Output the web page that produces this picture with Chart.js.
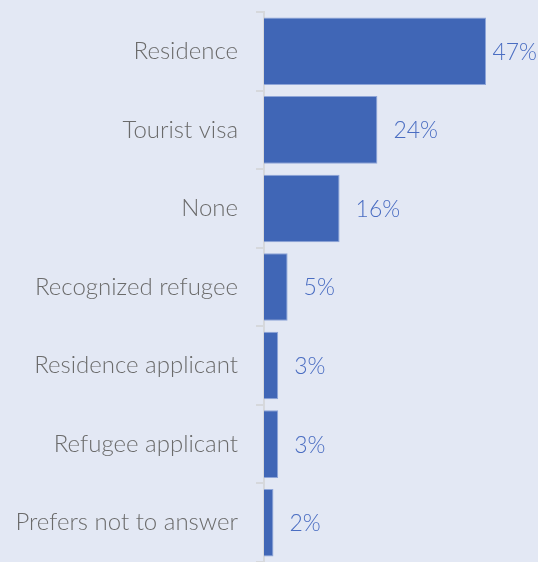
<!DOCTYPE html>
<html>
<head>
<meta charset="utf-8">
<script src="https://cdn.jsdelivr.net/npm/chart.js@4"></script>
<style>
  html, body { margin: 0; padding: 0; background: #e3e8f4; }
  #wrap { width: 538px; height: 562px; }
</style>
</head>
<body>
<div id="wrap"><canvas id="statusChart"></canvas></div>
<script>
const categories = ['Residence', 'Tourist visa', 'None', 'Recognized refugee', 'Residence applicant', 'Refugee applicant', 'Prefers not to answer'];
const shares = [47, 24, 16, 5, 3, 3, 2];
const valueLabels = ['47%', '24%', '16%', '5%', '3%', '3%', '2%'];

const FONT = "Lato, 'Open Sans', sans-serif";

// Draw the percentage next to each bar, keeping it inside the canvas
const valueLabelPlugin = {
    id: 'valueLabels',
    afterDatasetsDraw(chart) {
        const ctx = chart.ctx;
        const meta = chart.getDatasetMeta(0);
        ctx.save();
        ctx.font = '300 23px ' + FONT;
        ctx.fillStyle = '#4a6dc2';
        ctx.textBaseline = 'middle';
        meta.data.forEach((bar, i) => {
            const text = valueLabels[i];
            const w = ctx.measureText(text).width;
            const x = Math.min(bar.x + 16, chart.width - w - 1);
            ctx.fillText(text, x, bar.y + 1);
        });
        ctx.restore();
    }
};

new Chart(document.getElementById('statusChart').getContext('2d'), {
    type: 'bar',
    data: {
        labels: categories,
        datasets: [{
            data: shares,
            backgroundColor: '#4066b6',
            borderColor: '#8ea5d8',
            borderWidth: 1,
            categoryPercentage: 1,
            barPercentage: 0.86
        }]
    },
    options: {
        indexAxis: 'y',
        responsive: true,
        maintainAspectRatio: false,
        animation: false,
        layout: { padding: { top: 12, bottom: -3, left: 0, right: 0 } },
        plugins: {
            legend: { display: false },
            tooltip: { enabled: false }
        },
        scales: {
            x: {
                display: false,
                min: 0,
                max: 58
            },
            y: {
                afterFit: (scale) => {
                    scale.width = 264;
                    scale.paddingTop = 0;
                    scale.paddingBottom = 0;
                },
                border: { display: true, color: '#d6d8dc', width: 2 },
                grid: {
                    display: true,
                    drawOnChartArea: false,
                    drawTicks: true,
                    tickLength: 8,
                    color: '#d6d8dc',
                    lineWidth: 2
                },
                ticks: {
                    color: '#6b6b6b',
                    padding: 18,
                    font: { family: FONT, size: 24, weight: '300' }
                }
            }
        }
    },
    plugins: [valueLabelPlugin]
});
</script>
</body>
</html>
